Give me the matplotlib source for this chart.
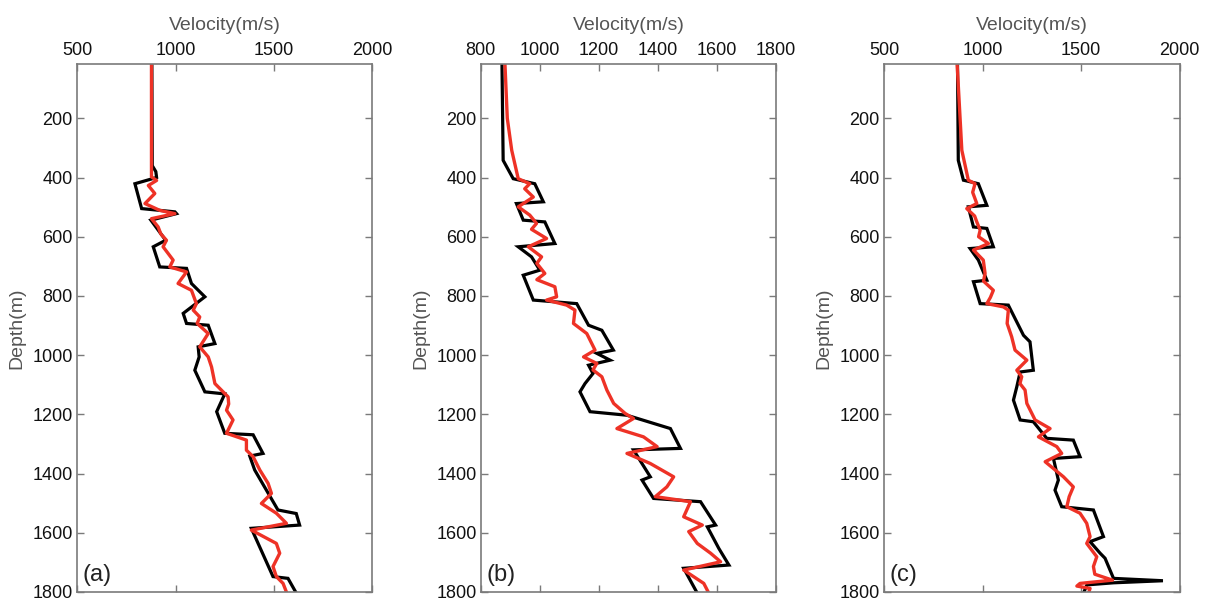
import numpy as np
import matplotlib.pyplot as plt

# Velocity logs: black = true model, red = inverted result
# (a)
depth_a_true = [15, 360, 380, 400, 421, 505, 516, 522, 544, 612, 634, 702, 707, 758, 803, 859, 893, 899,
                961, 972, 1006, 1051, 1124, 1131, 1191, 1264, 1269, 1332, 1341, 1388, 1523, 1535, 1574,
                1585, 1748, 1754, 1800]
vel_a_true = [880, 882, 900, 904, 794, 828, 997, 1005, 875, 950, 887, 920, 1056, 1081, 1149, 1039, 1056, 1166,
              1200, 1115, 1120, 1098, 1149, 1250, 1209, 1250, 1394, 1444, 1377, 1402, 1520, 1613, 1630,
              1385, 1495, 1571, 1610]
depth_a_inv = [15, 398, 410, 427, 454, 488, 511, 522, 539, 567, 590, 612, 634, 679, 702, 719, 758, 781, 826,
               848, 871, 893, 927, 972, 1006, 1040, 1096, 1141, 1165, 1186, 1219, 1264, 1287, 1321, 1343,
               1388, 1433, 1467, 1501, 1534, 1568, 1591, 1636, 1669, 1714, 1748, 1771, 1800]
vel_a_inv = [878, 878, 904, 862, 895, 845, 920, 997, 878, 912, 925, 954, 937, 988, 971, 1056, 1013, 1081, 1106,
             1090, 1123, 1110, 1166, 1123, 1166, 1183, 1200, 1267, 1270, 1259, 1292, 1259, 1360, 1360, 1394,
             1428, 1470, 1487, 1436, 1512, 1563, 1385, 1512, 1529, 1495, 1512, 1546, 1563]

# (b)
depth_b_true = [15, 342, 404, 421, 482, 488, 544, 550, 623, 634, 668, 713, 730, 814, 826, 899, 916, 983, 994,
                1017, 1034, 1062, 1096, 1124, 1191, 1203, 1248, 1315, 1320, 1411, 1422, 1484, 1495, 1574,
                1580, 1653, 1709, 1720, 1804]
vel_b_true = [872, 876, 910, 983, 1012, 921, 944, 1017, 1051, 927, 972, 1000, 944, 978, 1125, 1165, 1210, 1249,
              1193, 1238, 1165, 1180, 1153, 1136, 1170, 1295, 1442, 1476, 1317, 1374, 1346, 1385, 1544, 1595,
              1567, 1606, 1640, 1487, 1533]
depth_b_inv = [15, 200, 308, 404, 421, 438, 466, 499, 527, 555, 575, 606, 634, 668, 690, 724, 745, 769, 803,
               814, 831, 848, 893, 927, 983, 1006, 1028, 1050, 1073, 1118, 1163, 1197, 1214, 1248, 1276, 1309,
               1332, 1366, 1411, 1445, 1478, 1495, 1546, 1574, 1596, 1636, 1669, 1698, 1726, 1771, 1804]
vel_b_inv = [882, 890, 905, 927, 966, 949, 978, 927, 966, 989, 972, 1023, 961, 1006, 990, 1017, 990, 1051, 1057,
             1023, 1091, 1119, 1114, 1159, 1187, 1148, 1193, 1180, 1210, 1227, 1250, 1289, 1317, 1261, 1351,
             1397, 1295, 1374, 1453, 1430, 1391, 1510, 1487, 1550, 1504, 1533, 1578, 1612, 1487, 1555, 1572]

# (c)
depth_c_true = [15, 342, 409, 421, 494, 499, 567, 572, 634, 640, 679, 747, 752, 826, 831, 933, 955, 1051, 1057,
                1107, 1152, 1219, 1225, 1281, 1287, 1343, 1349, 1422, 1456, 1512, 1523, 1613, 1630, 1669,
                1686, 1754, 1762, 1769, 1776, 1800]
vel_c_true = [873, 877, 903, 979, 1022, 928, 954, 1022, 1055, 937, 979, 1022, 954, 988, 1131, 1208, 1241, 1258,
              1191, 1174, 1157, 1191, 1258, 1326, 1461, 1495, 1360, 1385, 1368, 1402, 1563, 1614, 1546, 1597,
              1622, 1665, 1916, 1665, 1530, 1515]
depth_c_inv = [15, 308, 409, 421, 450, 488, 505, 530, 550, 578, 600, 623, 645, 679, 724, 750, 781, 805, 826,
               837, 848, 893, 938, 983, 1017, 1051, 1073, 1096, 1118, 1163, 1219, 1248, 1276, 1309, 1332, 1360,
               1411, 1445, 1478, 1512, 1534, 1568, 1613, 1636, 1681, 1714, 1740, 1760, 1771, 1780, 1788, 1800]
vel_c_inv = [871, 895, 928, 962, 950, 971, 920, 960, 971, 988, 980, 1030, 954, 1004, 1013, 1005, 1055, 1040,
             1022, 1106, 1131, 1125, 1148, 1165, 1225, 1174, 1199, 1190, 1216, 1225, 1267, 1343, 1284, 1377,
             1402, 1318, 1411, 1461, 1440, 1428, 1495, 1529, 1546, 1529, 1580, 1563, 1570, 1660, 1495, 1479,
             1546, 1540]

panels = [
    ('(a)', depth_a_true, vel_a_true, depth_a_inv, vel_a_inv, (500, 2000), [500, 1000, 1500, 2000]),
    ('(b)', depth_b_true, vel_b_true, depth_b_inv, vel_b_inv, (800, 1800), [800, 1000, 1200, 1400, 1600, 1800]),
    ('(c)', depth_c_true, vel_c_true, depth_c_inv, vel_c_inv, (500, 2000), [500, 1000, 1500, 2000]),
]
lefts = [0.0637, 0.3976, 0.7312]

plt.rcParams['font.family'] = ['Liberation Sans', 'DejaVu Sans']

fig = plt.figure(figsize=(12.09, 6.01), dpi=100)
gray = '#7a7a7a'

for left, (tag, d_true, v_true, d_inv, v_inv, xlim, xticks) in zip(lefts, panels):
    ax = fig.add_axes([left, 0.015, 0.2444, 0.8793])
    ax.plot(v_true, d_true, color='black', lw=2.3, solid_joinstyle='miter')
    ax.plot(v_inv, d_inv, color='#ee3226', lw=2.4)

    ax.set_xlim(*xlim)
    ax.set_ylim(1800, 15)
    ax.set_xticks(xticks)
    ax.set_yticks(np.arange(200, 1801, 200))

    ax.xaxis.set_ticks_position('both')
    ax.yaxis.set_ticks_position('both')
    ax.xaxis.set_label_position('top')
    ax.tick_params(axis='x', top=True, labeltop=True, bottom=True, labelbottom=False)
    ax.tick_params(direction='in', length=5, width=1, color=gray, labelsize=13, labelcolor='#111111', pad=3)

    for sp in ax.spines.values():
        sp.set_color(gray)
        sp.set_linewidth(1.2)

    ax.set_xlabel('Velocity(m/s)', fontsize=14, color='#555555', labelpad=9)
    ax.set_ylabel('Depth(m)', fontsize=14, color='#555555', labelpad=5)
    ax.text(0.02, 0.012, tag, transform=ax.transAxes, fontsize=17, color='#222222',
            ha='left', va='bottom')

fig.savefig('out.png', dpi=100)
